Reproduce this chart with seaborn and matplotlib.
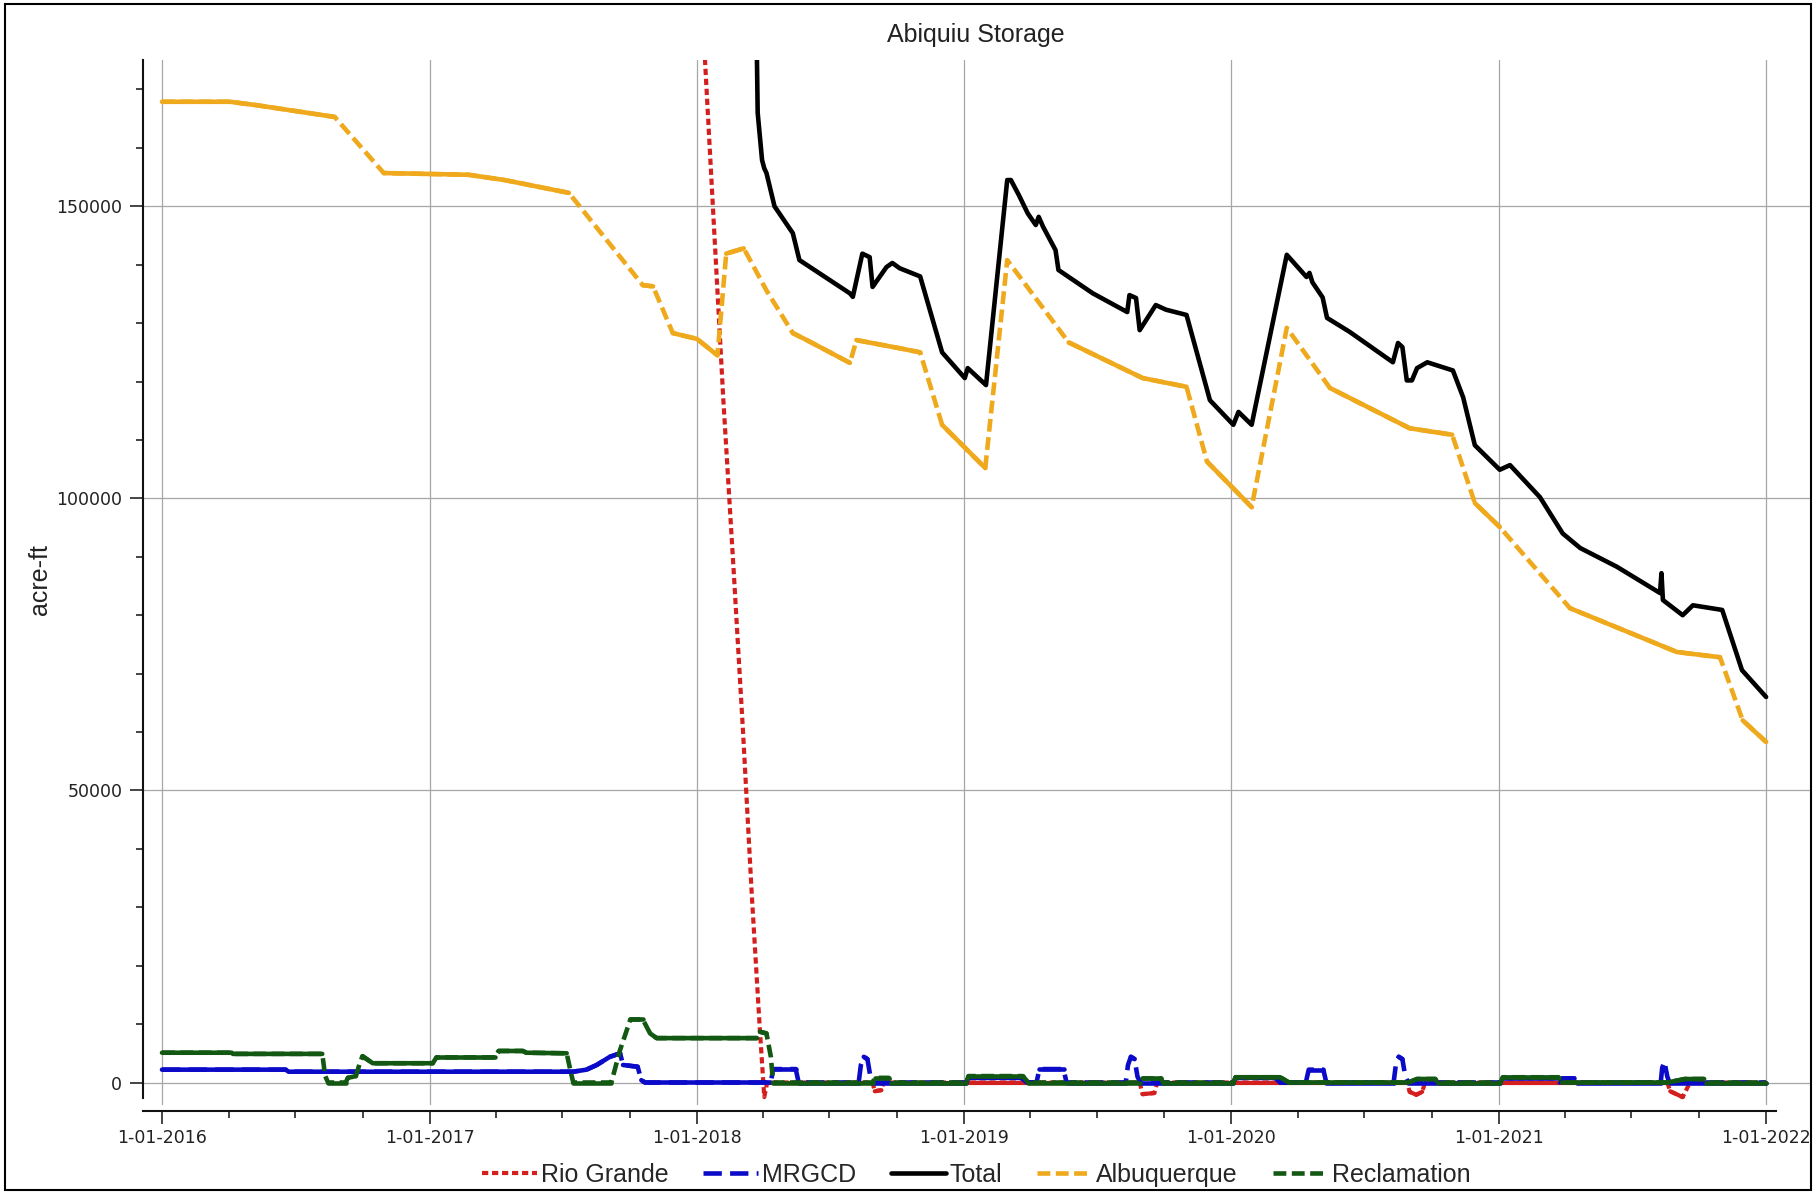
import numpy as np
import pandas as pd
import matplotlib
matplotlib.use("Agg")
import matplotlib.pyplot as plt
import matplotlib.dates as mdates
from matplotlib.ticker import MultipleLocator, FuncFormatter
from matplotlib.lines import Line2D
from matplotlib.patches import Rectangle
import seaborn as sns

# ---------------- storage series (acre-ft) ----------------
rio_dates = ["2018-01-01", "2018-01-12", "2018-02-06", "2018-02-20", "2018-03-05",
             "2018-03-17", "2018-03-28", "2018-04-03", "2018-04-07",
             "2018-08-29", "2018-09-01", "2018-09-10", "2018-09-13",
             "2019-08-29", "2019-09-02", "2019-09-18", "2019-09-22",
             "2020-08-28", "2020-09-01", "2020-09-10", "2020-09-18", "2020-09-22",
             "2021-08-19", "2021-08-23", "2021-09-09", "2021-09-19", "2022-01-01"]
rio_vals = [192000, 175000, 117000, 88000, 60000,
            32000, 9000, -2500, 0,
            0, -1500, -1300, 0,
            0, -2000, -1800, 0,
            0, -1600, -2100, -1600, 0,
            0, -1500, -2500, 0, 0]

mrgcd_dates = ["2016-01-01", "2016-06-18", "2016-06-22", "2017-07-16", "2017-08-03",
               "2017-08-17", "2017-09-04", "2017-09-18", "2017-09-22", "2017-10-12",
               "2017-10-17", "2017-10-22", "2018-04-12", "2018-04-15", "2018-05-16",
               "2018-05-20", "2018-08-10", "2018-08-13", "2018-08-17", "2018-08-22",
               "2018-08-26", "2018-08-30", "2019-01-04", "2019-01-07", "2019-03-20",
               "2019-03-28", "2019-04-10", "2019-04-14", "2019-05-17", "2019-05-21",
               "2019-08-10", "2019-08-13", "2019-08-17", "2019-08-22", "2019-08-26",
               "2019-08-30", "2020-01-04", "2020-01-07", "2020-03-01", "2020-03-08",
               "2020-04-12", "2020-04-16", "2020-05-06", "2020-05-10", "2020-08-10",
               "2020-08-13", "2020-08-17", "2020-08-22", "2020-08-26", "2020-08-30",
               "2021-01-03", "2021-01-06", "2021-03-20", "2021-03-25", "2021-03-28",
               "2021-04-14", "2021-04-18", "2021-08-10", "2021-08-12", "2021-08-15",
               "2021-08-19", "2021-08-22", "2022-01-01"]
mrgcd_vals = [2200, 2200, 1850, 1850, 2200,
              3000, 4400, 5000, 3000, 2700,
              400, 0, 0, 2300, 2300,
              0, 0, 3000, 4400, 4000,
              1000, 0, 0, 800, 800,
              0, 0, 2300, 2300, 0,
              0, 3000, 4400, 4000, 1000,
              0, 0, 800, 800, 0,
              0, 2200, 2200, 0, 0,
              3000, 4400, 4000, 1000, 0,
              0, 800, 800, 0, 700,
              700, 0, 0, 2500, 3600,
              1000, 0, 0]

total_dates = ["2018-03-16", "2018-03-24", "2018-03-25", "2018-03-31", "2018-04-03",
               "2018-04-06", "2018-04-17", "2018-05-12", "2018-05-21", "2018-07-29",
               "2018-08-02", "2018-08-15", "2018-08-25", "2018-08-29", "2018-09-17",
               "2018-09-25", "2018-10-05", "2018-11-02", "2018-12-02", "2019-01-02",
               "2019-01-06", "2019-01-31", "2019-03-01", "2019-03-06", "2019-03-17",
               "2019-03-29", "2019-04-09", "2019-04-13", "2019-04-19", "2019-05-06",
               "2019-05-10", "2019-06-26", "2019-08-12", "2019-08-15", "2019-08-24",
               "2019-08-29", "2019-09-20", "2019-10-04", "2019-11-01", "2019-12-03",
               "2020-01-04", "2020-01-11", "2020-01-29", "2020-03-17", "2020-04-13",
               "2020-04-17", "2020-04-21", "2020-05-05", "2020-05-11", "2020-06-11",
               "2020-08-09", "2020-08-16", "2020-08-22", "2020-08-28", "2020-09-04",
               "2020-09-11", "2020-09-25", "2020-10-30", "2020-11-13", "2020-11-29",
               "2021-01-02", "2021-01-16", "2021-02-26", "2021-03-29", "2021-04-22",
               "2021-06-11", "2021-08-09", "2021-08-11", "2021-08-13", "2021-09-09",
               "2021-09-23", "2021-11-02", "2021-11-29", "2022-01-01"]
total_vals = [200000, 175000, 166000, 157900, 156500,
              155700, 150000, 145400, 140800, 135100,
              134500, 141900, 141300, 136200, 139600,
              140300, 139400, 138000, 125000, 120600,
              122300, 119400, 154500, 154500, 151900,
              148800, 146800, 148200, 146500, 142500,
              139100, 135100, 131900, 134800, 134300,
              128800, 133100, 132300, 131400, 116800,
              112600, 114800, 112600, 141700, 137900,
              138600, 137000, 134400, 130900, 128500,
              123300, 126600, 125900, 120200, 120200,
              122300, 123300, 121900, 117300, 109100,
              104900, 105700, 100200, 94000, 91500,
              88300, 83800, 87200, 82600, 80000,
              81700, 80900, 70600, 66000]

abq_dates = ["2016-01-01", "2016-04-03", "2016-05-10", "2016-08-24", "2016-10-30",
             "2017-02-23", "2017-04-13", "2017-07-10", "2017-10-19", "2017-11-02",
             "2017-11-29", "2018-01-01", "2018-01-29", "2018-02-10", "2018-03-06",
             "2018-04-06", "2018-05-12", "2018-05-31", "2018-07-29", "2018-08-07",
             "2018-10-05", "2018-11-02", "2018-12-02", "2019-01-30", "2019-03-01",
             "2019-05-24", "2019-09-02", "2019-11-01", "2019-11-29", "2020-01-29",
             "2020-03-17", "2020-05-15", "2020-09-01", "2020-10-29", "2020-11-29",
             "2021-01-02", "2021-04-08", "2021-09-01", "2021-10-30", "2021-11-30",
             "2022-01-01"]
abq_vals = [167900, 167900, 167300, 165300, 155700,
            155400, 154500, 152300, 136500, 136300,
            128300, 127300, 124500, 141900, 142800,
            135600, 128300, 127100, 123200, 127100,
            125700, 125000, 112600, 105200, 140800,
            126700, 120600, 119100, 106300, 98500,
            129200, 118900, 112000, 110900, 99200,
            95100, 81200, 73700, 72800, 62000,
            58300]

recl_dates = ["2016-01-01", "2016-04-05", "2016-04-07", "2016-08-07", "2016-08-11",
              "2016-08-15", "2016-09-08", "2016-09-11", "2016-09-22", "2016-09-28",
              "2016-10-01", "2016-10-15", "2017-01-05", "2017-01-10", "2017-03-31",
              "2017-04-05", "2017-05-08", "2017-05-13", "2017-07-07", "2017-07-12",
              "2017-07-16", "2017-09-06", "2017-09-18", "2017-09-24", "2017-10-02",
              "2017-10-19", "2017-10-29", "2017-11-07", "2018-03-24", "2018-03-28",
              "2018-04-06", "2018-04-12", "2018-04-15", "2018-08-29", "2018-09-01",
              "2018-09-20", "2018-09-23", "2019-01-04", "2019-01-07", "2019-03-22",
              "2019-03-30", "2019-08-30", "2019-09-02", "2019-09-27", "2019-09-30",
              "2020-01-04", "2020-01-07", "2020-03-08", "2020-03-20", "2020-08-30",
              "2020-09-11", "2020-10-06", "2020-10-09", "2021-01-03", "2021-01-06",
              "2021-03-23", "2021-03-28", "2021-08-19", "2021-09-12", "2021-10-08",
              "2021-10-11", "2022-01-01"]
recl_vals = [5100, 5100, 4900, 4900, 1100,
             0, 0, 800, 1100, 3600,
             4500, 3300, 3300, 4300, 4300,
             5400, 5400, 5100, 5000, 2100,
             0, 0, 5600, 7800, 10800,
             10800, 8400, 7600, 7600, 8700,
             8400, 4400, 0, 0, 800,
             800, 0, 0, 1100, 1100,
             0, 0, 700, 700, 0,
             0, 900, 900, 0, 0,
             600, 600, 0, 0, 900,
             900, 0, 0, 600, 600,
             0, 0]

series_names = ["Rio Grande", "MRGCD", "Total", "Albuquerque", "Reclamation"]
series_data = [(rio_dates, rio_vals), (mrgcd_dates, mrgcd_vals), (total_dates, total_vals),
               (abq_dates, abq_vals), (recl_dates, recl_vals)]
series_colors = ["#d41f1f", "#0a0ac8", "#000000", "#efa91d", "#125812"]
series_widths = [3.0, 3.3, 3.3, 3.3, 3.3]
series_dashes = [(1.5, 0.9), (4.0, 1.8), None, (2.8, 1.2), (2.8, 1.2)]

STEEP = 130.0  # acre-ft per day above which a dashed stroke shows through


def to_frame(dates, vals):
    return pd.DataFrame({"date": pd.to_datetime(dates), "value": np.asarray(vals, dtype=float)})


def gentle_runs(df, thr):
    """Split a series into runs of consecutive slow-changing segments."""
    t = df["date"].values.astype("datetime64[D]").astype(float)
    v = df["value"].values
    slope = np.abs(np.diff(v)) / np.maximum(np.diff(t), 1e-9)
    rows, run, i, n = [], 0, 0, len(slope)
    while i < n:
        if slope[i] <= thr:
            j = i
            while j < n and slope[j] <= thr:
                j += 1
            for k in range(i, j + 1):
                rows.append((df["date"].iloc[k], v[k], run))
            run += 1
            i = j
        else:
            i += 1
    return pd.DataFrame(rows, columns=["date", "value", "run"])


# ---------------- figure ----------------
sns.set_theme(style="ticks")
plt.rcParams["font.family"] = ["Liberation Sans", "DejaVu Sans"]

W, H = 1815, 1192
fig = plt.figure(figsize=(W / 100, H / 100), dpi=100)
fig.patch.set_facecolor("white")
ax = fig.add_axes([143 / W, 1 - 1105 / H, (1810 - 143) / W, (1105 - 60) / H])
ax.set_facecolor("white")

origin = pd.Timestamp("2016-01-01")
px_per_day = 0.7318
x_left = origin + pd.Timedelta(days=(143 - 162) / px_per_day)
x_right = origin + pd.Timedelta(days=(1810 - 162) / px_per_day)
ax.set_xlim(x_left, x_right)
ax.set_ylim(-3850, 175050)

ax.grid(True, which="major", color="#a6a6a6", lw=0.9)
ax.set_axisbelow(True)

for name, (d, v), c, lw, dash in zip(series_names, series_data, series_colors,
                                     series_widths, series_dashes):
    df = to_frame(d, v)
    if dash is None:
        sns.lineplot(data=df, x="date", y="value", color=c, lw=lw, ax=ax,
                     estimator=None, sort=False, legend=False)
    else:
        sns.lineplot(data=df, x="date", y="value", color=c, lw=lw, ax=ax,
                     estimator=None, sort=False, legend=False,
                     linestyle=(0, dash), dash_capstyle="butt")
        runs = gentle_runs(df, STEEP)
        if len(runs):
            sns.lineplot(data=runs, x="date", y="value", units="run", color=c, lw=lw,
                         ax=ax, estimator=None, sort=False, legend=False)

# axes styling
ax.set_xlabel("")
ax.set_ylabel("")
ax.spines["top"].set_visible(False)
ax.spines["right"].set_visible(False)
for s in ("left", "bottom"):
    ax.spines[s].set_linewidth(1.5)
    ax.spines[s].set_color("#111111")
ax.spines["left"].set_bounds(-2700, 175050)
ax.spines["bottom"].set_position(("outward", 4.5))
ax.spines["bottom"].set_bounds(mdates.date2num(x_left), mdates.date2num(pd.Timestamp("2022-01-15")))

ax.xaxis.set_major_locator(mdates.YearLocator())
ax.xaxis.set_minor_locator(mdates.MonthLocator(bymonth=[4, 7, 10]))
ax.xaxis.set_major_formatter(FuncFormatter(
    lambda x, _: (lambda d: f"{d.month}-{d.day:02d}-{d.year}")(mdates.num2date(x))))
ax.yaxis.set_major_locator(MultipleLocator(50000))
ax.yaxis.set_minor_locator(MultipleLocator(10000))
ax.yaxis.set_major_formatter(FuncFormatter(lambda v, _: f"{int(round(v))}"))

ax.tick_params(which="major", length=9.4, width=1.1, color="#111111",
               labelsize=12.5, labelcolor="#222222")
ax.tick_params(which="minor", length=5, width=1.1, color="#111111")
ax.tick_params(axis="x", which="major", pad=3.5)
ax.tick_params(axis="y", which="major", pad=5.5)
for lab in ax.get_xticklabels() + ax.get_yticklabels():
    lab.set_fontfamily("DejaVu Sans")

# title and axis label
fig.text(976 / W, 1 - 35 / H, "Abiquiu Storage", ha="center", va="center",
         fontsize=18, color="#222222")
fig.text(40 / W, 1 - 580 / H, "acre-ft", ha="center", va="center", rotation=90,
         fontsize=18, color="#222222")

# legend
handles = []
for name, c, lw, dash in zip(series_names, series_colors, series_widths, series_dashes):
    ls = "-" if dash is None else (0, dash)
    handles.append(Line2D([], [], color=c, lw=lw, linestyle=ls, dash_capstyle="butt"))
fig.legend(handles, series_names, loc="center", bbox_to_anchor=(976 / W, 1 - 1175 / H),
           ncol=5, frameon=False, fontsize=18, handlelength=2.2, handletextpad=0.15,
           columnspacing=1.4, borderaxespad=0)

# outer frame
fig.add_artist(Rectangle((5 / W, 2 / H), (1811 - 5) / W, (1190 - 4) / H,
                         transform=fig.transFigure, fill=False, lw=1.5, ec="black"))

fig.savefig("out.png", dpi=100, facecolor="white")
